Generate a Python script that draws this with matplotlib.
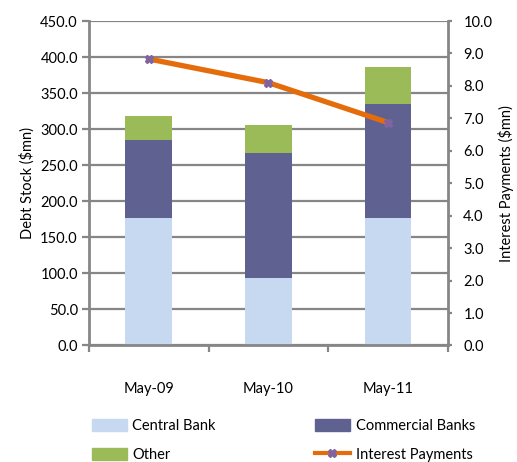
import matplotlib.pyplot as plt
import numpy as np
from matplotlib.patches import Patch
from matplotlib.lines import Line2D

plt.rcParams['font.family'] = ['Lato', 'DejaVu Sans']

periods = ['May-09', 'May-10', 'May-11']
central_bank = [176.4, 93.2, 176.4]
commercial_banks = [108.6, 174.2, 158.5]
other = [32.8, 37.9, 51.3]
interest_payments = [8.83, 8.10, 6.87]

c_central = '#C6D9F1'
c_comm = '#5F6190'
c_other = '#9BBB59'
c_line = '#E46C0A'
c_grid = '#868686'

fig = plt.figure(figsize=(5.17, 4.62), dpi=100)
ax = fig.add_axes([0.1721, 0.2522, 0.6944, 0.7023])

x = np.arange(len(periods))
w = 0.39
b1 = np.array(central_bank)
b2 = b1 + np.array(commercial_banks)
ax.bar(x, central_bank, w, color=c_central, zorder=2)
ax.bar(x, commercial_banks, w, bottom=b1, color=c_comm, zorder=2)
ax.bar(x, other, w, bottom=b2, color=c_other, zorder=2)

ax.set_xlim(-0.5, 2.5)
ax.set_ylim(0, 450)
ax.set_yticks(np.arange(0, 451, 50))
ax.set_yticklabels([f'{v:.1f}' for v in np.arange(0, 451, 50)])
ax.grid(axis='y', color=c_grid, linewidth=1.6, zorder=0)
ax.set_axisbelow(True)
ax.set_xticks(x)
ax.set_xticklabels(periods)
ax.set_xticks([-0.5, 0.5, 1.5, 2.5], minor=True)
ax.tick_params(axis='x', which='major', length=0, pad=26, labelsize=10.5)
ax.tick_params(axis='x', which='minor', length=5, width=1.6, color=c_grid, direction='out')
ax.tick_params(axis='y', length=5, width=1.6, color=c_grid, labelsize=10.5, pad=3)
for s in ['left', 'bottom']:
    ax.spines[s].set_color(c_grid)
    ax.spines[s].set_linewidth(2)
for s in ['top', 'right']:
    ax.spines[s].set_visible(False)
ax.set_ylabel('Debt Stock ($mn)', fontsize=10.5, labelpad=4)

ax2 = ax.twinx()
ax2.plot(x, interest_payments, color=c_line, linewidth=3.8, marker='X',
         markersize=6, markerfacecolor='#8064A2', markeredgecolor='#8064A2', zorder=3)
ax2.set_ylim(0, 10)
ax2.set_yticks(np.arange(0, 10.01, 1))
ax2.set_yticklabels([f'{v:.1f}' for v in np.arange(0, 10.01, 1)])
ax2.tick_params(axis='y', length=3, width=1.6, color=c_grid, labelsize=10.5, pad=8)
for s in ['top', 'left', 'bottom']:
    ax2.spines[s].set_visible(False)
ax2.spines['right'].set_color(c_grid)
ax2.spines['right'].set_linewidth(2)
ax2.set_ylabel('Interest Payments ($mn)', fontsize=10.5, labelpad=4)

handles = [
    Patch(color=c_central, label='Central Bank'),
    Patch(color=c_other, label='Other'),
    Patch(color=c_comm, label='Commercial Banks'),
    Line2D([], [], color=c_line, linewidth=3, marker='X', markersize=6,
           markerfacecolor='#8064A2', markeredgecolor='#8064A2', label='Interest Payments'),
]
fig.legend(handles=handles, ncol=2, loc='center', bbox_to_anchor=(0.548, 0.047),
           frameon=False, fontsize=10.5, handlelength=2.4, handleheight=0.9,
           columnspacing=6.8, labelspacing=1.0, handletextpad=0.4)

fig.savefig('out.png', dpi=100)
